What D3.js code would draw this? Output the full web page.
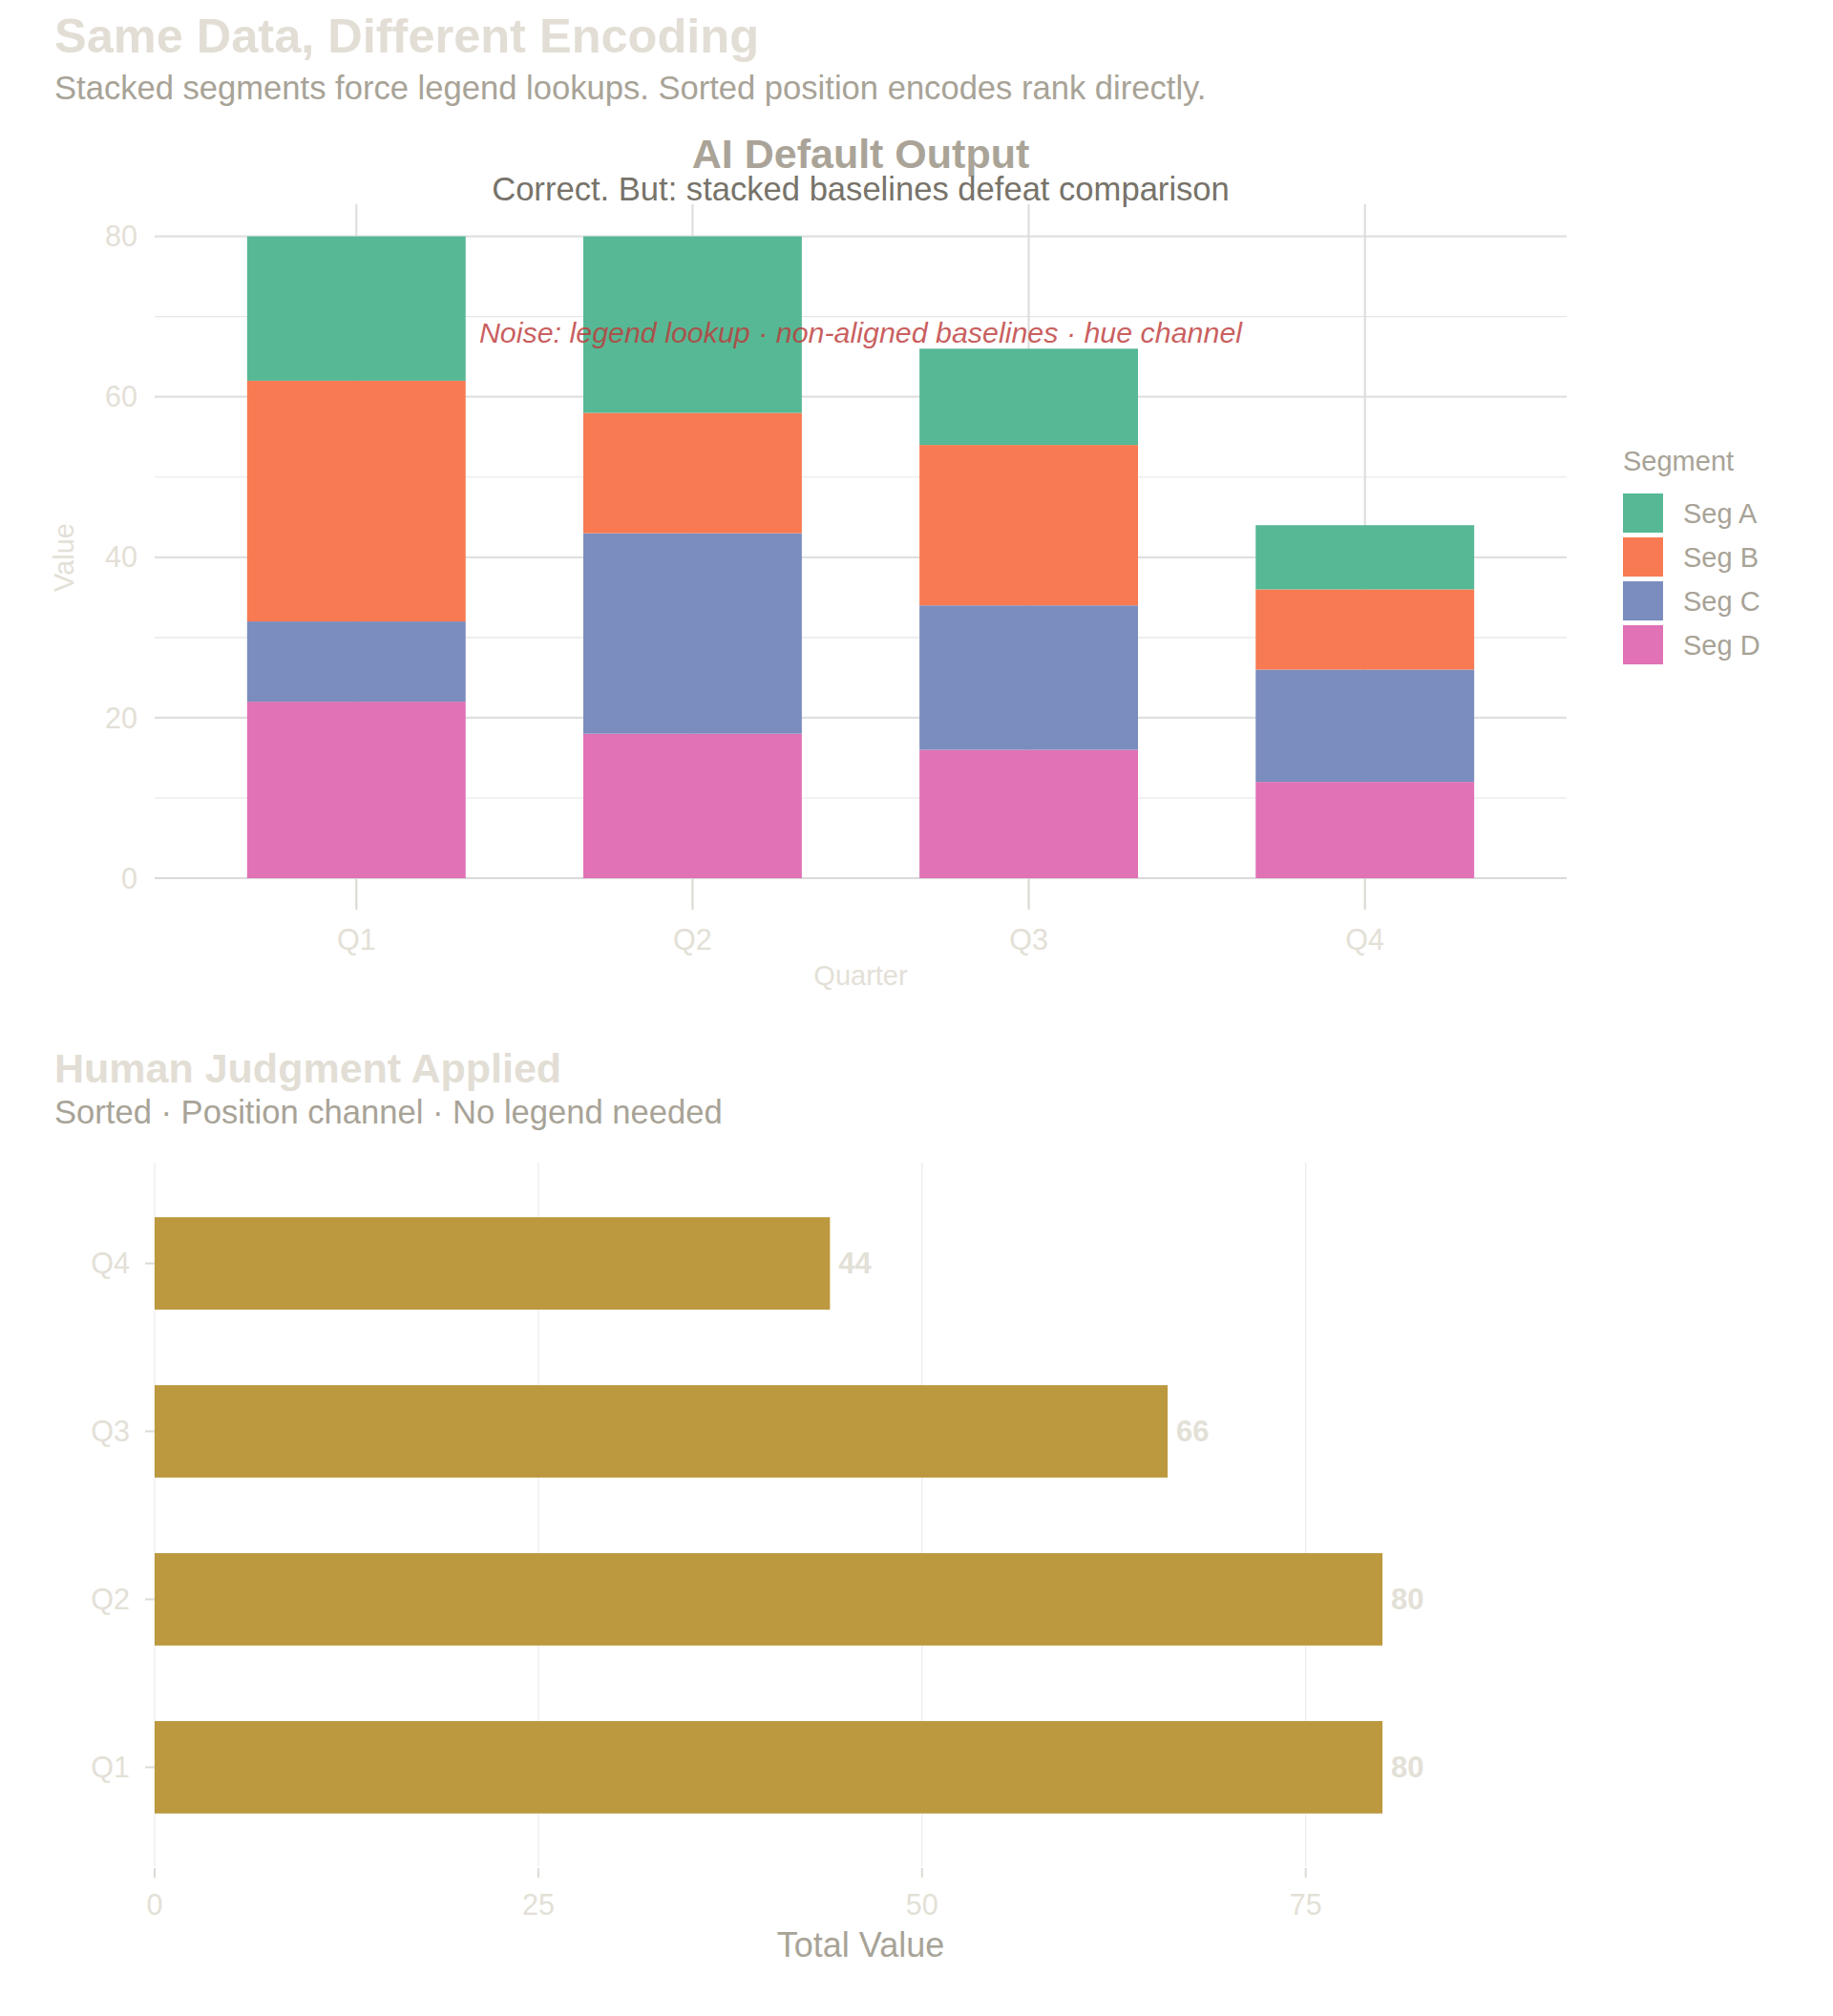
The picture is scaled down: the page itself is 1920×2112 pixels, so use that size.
<!DOCTYPE html>
<html>
<head>
<meta charset="utf-8">
<script src="https://cdn.jsdelivr.net/npm/d3@7"></script>
<style>
  body { margin: 0; background: #fff; }
  text { font-family: "Liberation Sans", Arial, Helvetica, sans-serif; }
</style>
</head>
<body>
<div id="chart"></div>
<script>
// DATA
const quarters = ["Q1", "Q2", "Q3", "Q4"];
const segments = ["Seg A", "Seg B", "Seg C", "Seg D"];
const segA = [18, 22, 12, 8];
const segB = [30, 15, 20, 10];
const segC = [10, 25, 18, 14];
const segD = [22, 18, 16, 12];
const valueTicks = [0, 20, 40, 60, 80];
const valueMinor = [10, 30, 50, 70];
const totalTicks = [0, 25, 50, 75];

// COLOURS
const segColors = { "Seg A": "#56b894", "Seg B": "#f77a52", "Seg C": "#7b8dbe", "Seg D": "#e072b5" };
const light = "#e3e0d7";
const mid = "#a8a397";

const W = 1920, H = 2112;
const svg = d3.select("#chart").append("svg")
  .attr("width", W).attr("height", H);
svg.append("rect").attr("width", W).attr("height", H).attr("fill", "#fff");

// table for the stack
const rows = quarters.map((q, i) => ({
  quarter: q, "Seg A": segA[i], "Seg B": segB[i], "Seg C": segC[i], "Seg D": segD[i]
}));

// header
svg.append("text").attr("x", 57).attr("y", 55)
  .attr("font-size", 50.5).attr("font-weight", "bold").attr("fill", "#e2ded5")
  .text("Same Data, Different Encoding");
svg.append("text").attr("x", 57).attr("y", 104)
  .attr("font-size", 34.6).attr("fill", mid)
  .text("Stacked segments force legend lookups. Sorted position encodes rank directly.");

// ****************** TOP: stacked ******************
const p1 = { left: 162, right: 1641, top: 214, bottom: 920 };
const x1 = d3.scaleBand().domain(quarters).range([p1.left, p1.right])
  .paddingInner(0).paddingOuter(0.1);
const y1 = d3.scaleLinear().domain([0, 84]).range([p1.bottom, p1.top]);
const cx = q => x1(q) + x1.bandwidth() / 2;
const barW = x1.step() * 0.65;

const g1 = svg.append("g");

// minor grid
g1.selectAll("line.minor").data(valueMinor).join("line")
  .attr("x1", p1.left).attr("x2", p1.right)
  .attr("y1", d => y1(d)).attr("y2", d => y1(d))
  .attr("stroke", "#e6e6e6").attr("stroke-width", 1.1);
// major grid
g1.selectAll("line.major").data(valueTicks).join("line")
  .attr("x1", p1.left).attr("x2", p1.right)
  .attr("y1", d => y1(d)).attr("y2", d => y1(d))
  .attr("stroke", d => d === 0 ? "#d9d9d9" : "#e0e0e0").attr("stroke-width", 2.2);
g1.selectAll("line.vgrid").data(quarters).join("line")
  .attr("x1", cx).attr("x2", cx)
  .attr("y1", p1.top).attr("y2", p1.bottom)
  .attr("stroke", "#dedede").attr("stroke-width", 2.2);
// x ticks (long)
g1.selectAll("line.xtick").data(quarters).join("line")
  .attr("x1", cx).attr("x2", cx)
  .attr("y1", p1.bottom).attr("y2", p1.bottom + 33)
  .attr("stroke", "#dcdad4").attr("stroke-width", 2.2);

// bars
const stack = d3.stack().keys(["Seg D", "Seg C", "Seg B", "Seg A"]);
const series = stack(rows);
g1.selectAll("g.layer").data(series).join("g")
  .attr("fill", d => segColors[d.key])
  .selectAll("rect").data(d => d).join("rect")
  .attr("x", d => cx(d.data.quarter) - barW / 2)
  .attr("width", barW)
  .attr("y", d => y1(d[1]))
  .attr("height", d => y1(d[0]) - y1(d[1]));

// y labels
g1.selectAll("text.ylab").data(valueTicks).join("text")
  .attr("x", 144).attr("y", d => y1(d))
  .attr("dy", "0.35em").attr("text-anchor", "end")
  .attr("font-size", 30.5).attr("fill", light)
  .text(d => d);
// x labels
g1.selectAll("text.xlab").data(quarters).join("text")
  .attr("x", cx).attr("y", 984)
  .attr("dy", "0.35em").attr("text-anchor", "middle")
  .attr("font-size", 30.5).attr("fill", light)
  .text(d => d);
svg.append("text")
  .attr("x", (p1.left + p1.right) / 2).attr("y", 1022)
  .attr("dy", "0.35em").attr("text-anchor", "middle")
  .attr("font-size", 29).attr("fill", light).text("Quarter");
svg.append("text")
  .attr("transform", "translate(67,584) rotate(-90)")
  .attr("dy", "0.35em").attr("text-anchor", "middle")
  .attr("font-size", 29).attr("fill", light).text("Value");

// titles
svg.append("text").attr("x", (p1.left + p1.right) / 2).attr("y", 176)
  .attr("text-anchor", "middle").attr("font-size", 43).attr("font-weight", "bold")
  .attr("fill", "#aaa498").text("AI Default Output");
svg.append("text").attr("x", (p1.left + p1.right) / 2).attr("y", 210)
  .attr("text-anchor", "middle").attr("font-size", 34.6)
  .attr("fill", "#77736a").text("Correct. But: stacked baselines defeat comparison");

// annotation
svg.append("text").attr("x", (p1.left + p1.right) / 2).attr("y", y1(68))
  .attr("dy", "0.35em").attr("text-anchor", "middle")
  .attr("font-size", 30.4).attr("font-style", "italic")
  .attr("fill", "#bd3b3b").attr("fill-opacity", 0.82)
  .text("Noise: legend lookup \u00b7 non-aligned baselines \u00b7 hue channel");

// legend
const leg = svg.append("g").attr("transform", "translate(1700,0)");
leg.append("text").attr("x", 0).attr("y", 493)
  .attr("font-size", 29).attr("fill", mid).text("Segment");
const li = leg.selectAll("g.item").data(segments).join("g")
  .attr("transform", (d, i) => `translate(0,${517 + i * 46})`);
li.append("rect").attr("width", 42).attr("height", 41)
  .attr("fill", d => segColors[d]);
li.append("text").attr("x", 63).attr("y", 21).attr("dy", "0.35em")
  .attr("font-size", 29).attr("fill", mid).text(d => d);

// ****************** BOTTOM: sorted ******************
svg.append("text").attr("x", 57).attr("y", 1134)
  .attr("font-size", 43).attr("font-weight", "bold").attr("fill", "#e2ded5")
  .text("Human Judgment Applied");
svg.append("text").attr("x", 57).attr("y", 1177)
  .attr("font-size", 34.6).attr("fill", mid)
  .text("Sorted \u00b7 Position channel \u00b7 No legend needed");

const totals = rows.map(r => ({ quarter: r.quarter, total: d3.sum(segments, k => r[k]) }));
const sorted = totals.slice().sort((a, b) => d3.descending(a.total, b.total));

const p2 = { left: 162, right: 1641, top: 1218, bottom: 1957 };
const x2 = d3.scaleLinear().domain([0, 92]).range([p2.left, p2.right]);
const y2 = d3.scaleBand().domain(sorted.map(d => d.quarter))
  .range([p2.bottom, p2.top]).paddingInner(0).paddingOuter(0.1);
const cy = q => y2(q) + y2.bandwidth() / 2;
const barH = y2.step() * 0.55;

const g2 = svg.append("g");
g2.selectAll("line.vgrid").data(totalTicks).join("line")
  .attr("x1", d => x2(d)).attr("x2", d => x2(d))
  .attr("y1", p2.top).attr("y2", p2.bottom - 2)
  .attr("stroke", "#ebebeb").attr("stroke-width", 1.2);
g2.selectAll("line.xtick").data(totalTicks).join("line")
  .attr("x1", d => x2(d)).attr("x2", d => x2(d))
  .attr("y1", p2.bottom).attr("y2", p2.bottom + 10)
  .attr("stroke", "#dcdad4").attr("stroke-width", 2);
g2.selectAll("line.ytick").data(sorted).join("line")
  .attr("x1", 152).attr("x2", p2.left)
  .attr("y1", d => cy(d.quarter)).attr("y2", d => cy(d.quarter))
  .attr("stroke", "#dcdad4").attr("stroke-width", 2);

g2.selectAll("rect.bar").data(sorted).join("rect")
  .attr("x", x2(0)).attr("width", d => x2(d.total) - x2(0))
  .attr("y", d => cy(d.quarter) - barH / 2).attr("height", barH)
  .attr("fill", "#bc983e");

g2.selectAll("text.val").data(sorted).join("text")
  .attr("x", d => x2(d.total) + 9).attr("y", d => cy(d.quarter))
  .attr("dy", "0.35em").attr("font-size", 31).attr("font-weight", "bold")
  .attr("fill", light).text(d => d.total);

g2.selectAll("text.ylab").data(sorted).join("text")
  .attr("x", 136).attr("y", d => cy(d.quarter))
  .attr("dy", "0.35em").attr("text-anchor", "end")
  .attr("font-size", 30.5).attr("fill", light).text(d => d.quarter);
g2.selectAll("text.xlab").data(totalTicks).join("text")
  .attr("x", d => x2(d)).attr("y", 1995)
  .attr("dy", "0.35em").attr("text-anchor", "middle")
  .attr("font-size", 30.5).attr("fill", light).text(d => d);
svg.append("text").attr("x", (p2.left + p2.right) / 2).attr("y", 2037)
  .attr("dy", "0.35em").attr("text-anchor", "middle")
  .attr("font-size", 36).attr("fill", mid).text("Total Value");
</script>
</body>
</html>
